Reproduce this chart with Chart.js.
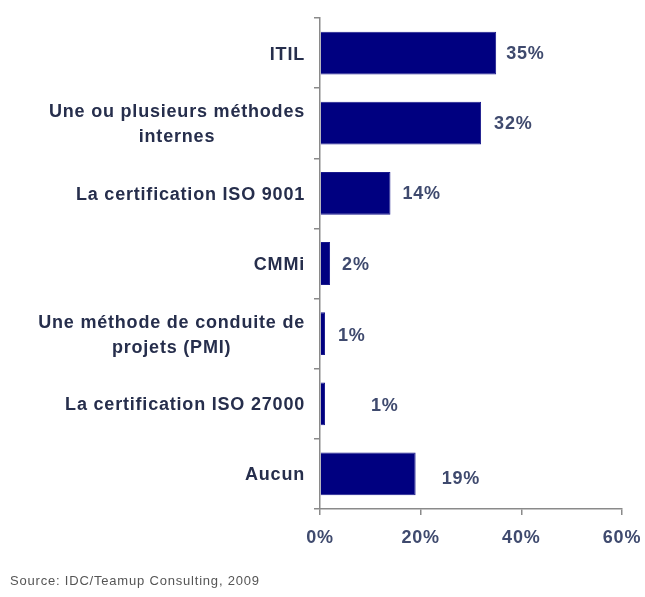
<!DOCTYPE html>
<html>
<head>
<meta charset="utf-8">
<script src="https://cdn.jsdelivr.net/npm/chart.js@4"></script>
<style>
  html, body { margin: 0; padding: 0; background: #ffffff; }
  #wrap { width: 645px; height: 597px; }
</style>
</head>
<body>
<div id="wrap"><canvas id="c" width="645" height="597"></canvas></div>
<script>
const categories = [
  "ITIL",
  ["Une ou plusieurs méthodes", "internes"],
  "La certification ISO 9001",
  "CMMi",
  ["Une méthode de conduite de", "projets (PMI)"],
  "La certification ISO 27000",
  "Aucun"
];
const values = [35, 32, 14, 2, 1, 1, 19];
const valueLabels = ["35%", "32%", "14%", "2%", "1%", "1%", "19%"];
const xTicks = [0, 20, 40, 60];
const sourceText = "Source: IDC/Teamup Consulting, 2009";

const FONT = "'Liberation Sans', Arial, sans-serif";
const SPACING = '0.8px';

const spacingPlugin = {
  id: 'spacing',
  beforeDraw(chart) { chart.ctx.letterSpacing = SPACING; },
  afterDraw(chart) { chart.ctx.letterSpacing = '0px'; }
};

const catLabelPlugin = {
  id: 'catLabels',
  afterDraw(chart, args, opts) {
    const ctx = chart.ctx;
    const ys = chart.scales.y;
    const right = chart.chartArea.left - opts.gap;
    ctx.save();
    ctx.letterSpacing = SPACING;
    ctx.font = 'bold 18px ' + FONT;
    ctx.fillStyle = opts.color;
    ctx.textBaseline = 'middle';
    categories.forEach((lab, i) => {
      const y = ys.getPixelForValue(i) + opts.dy;
      const lines = Array.isArray(lab) ? lab : [lab];
      const maxW = Math.max(...lines.map(l => ctx.measureText(l).width));
      const lh = opts.lineHeight;
      const y0 = y - (lines.length - 1) * lh / 2;
      lines.forEach((l, k) => {
        if (lines.length === 1) {
          ctx.textAlign = 'right';
          ctx.fillText(l, right, y0);
        } else {
          ctx.textAlign = 'center';
          ctx.fillText(l, right - maxW / 2, y0 + k * lh);
        }
      });
    });
    ctx.restore();
  }
};

const valueLabelPlugin = {
  id: 'valueLabels',
  afterDatasetsDraw(chart, args, opts) {
    const ctx = chart.ctx;
    const meta = chart.getDatasetMeta(0);
    ctx.save();
    ctx.letterSpacing = SPACING;
    ctx.font = 'bold 18px ' + FONT;
    ctx.fillStyle = opts.color;
    ctx.textAlign = 'left';
    ctx.textBaseline = 'middle';
    meta.data.forEach((bar, i) => {
      ctx.fillText(valueLabels[i], bar.x + opts.dx[i], bar.y + opts.dy[i]);
    });
    ctx.restore();
  }
};

new Chart(document.getElementById('c'), {
  type: 'bar',
  data: {
    labels: categories,
    datasets: [{
      data: values,
      backgroundColor: '#000080',
      borderColor: '#1a1a8c',
      borderWidth: 1,
      borderSkipped: 'left',
      categoryPercentage: 1.0,
      barPercentage: 0.61
    }]
  },
  options: {
    indexAxis: 'y',
    responsive: false,
    animation: false,
    layout: { padding: { left: 10, right: 23, top: 18, bottom: 8 } },
    scales: {
      x: {
        min: 0,
        max: 60,
        afterBuildTicks(scale) { scale.ticks = xTicks.map(v => ({ value: v })); },
        afterFit(scale) {
          scale.height = 64.4;
          scale.paddingLeft = 0;
          scale.paddingRight = 0;
        },
        border: { display: true, color: '#8a8a8a', width: 1.5 },
        grid: { drawOnChartArea: false, drawTicks: true, tickLength: 6, color: '#8a8a8a', lineWidth: 1.5 },
        ticks: {
          padding: 12,
          color: '#3f4a6e',
          font: { family: FONT, size: 18, weight: 'bold' },
          callback: v => v + '%',
          maxRotation: 0
        }
      },
      y: {
        afterFit(scale) {
          scale.width = 310;
          scale.paddingTop = 0;
          scale.paddingBottom = 0;
        },
        border: { display: true, color: '#8a8a8a', width: 1.5 },
        grid: { drawOnChartArea: false, drawTicks: true, tickLength: 6, color: '#8a8a8a', lineWidth: 1.5, offset: true },
        ticks: { display: false }
      }
    },
    plugins: {
      legend: { display: false },
      tooltip: { enabled: false },
      title: {
        display: true,
        position: 'bottom',
        align: 'start',
        text: sourceText,
        color: '#555555',
        font: { family: FONT, size: 13, weight: 'normal' },
        padding: { top: 0, bottom: 0 }
      },
      catLabels: { gap: 15, color: '#262e4c', lineHeight: 25, dy: 1.5 },
      valueLabels: { color: '#3f4a6e', dx: [10, 13, 12, 12, 13, 46, 26], dy: [1, 1, 1, 2, 2, 2, 5] }
    }
  },
  plugins: [spacingPlugin, catLabelPlugin, valueLabelPlugin]
});
</script>
</body>
</html>
